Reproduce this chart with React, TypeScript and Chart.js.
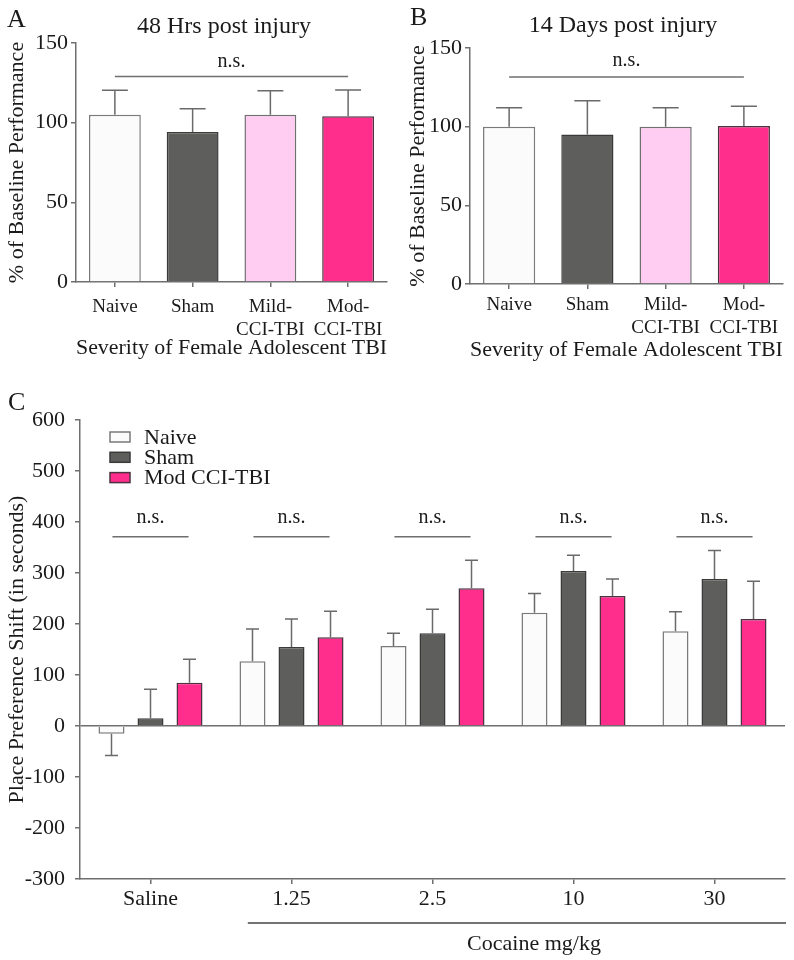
import React, { useEffect, useRef } from "react";
import { Chart, registerables } from "chart.js";

Chart.register(...registerables);

const FONT = '"Liberation Serif", "Times New Roman", Times, serif';
const INK = "#1a1a1a";
const AXIS = "#6f6f6f";

// ---------- data: panels A and B ----------
const severityLabels = [["Naive"], ["Sham"], ["Mild-", "CCI-TBI"], ["Mod-", "CCI-TBI"]];
const hrs48Mean = [105, 94.2, 105, 104];
const hrs48Sem = [15.3, 14.6, 15, 16.5];
const days14Mean = [100, 95, 100, 100.4];
const days14Sem = [12, 21.4, 12, 12.5];
const baselineTicks = [0, 50, 100, 150];
// n.s. bracket: [first bar, last bar, line value, label baseline value]
const hrs48NS = [0, 3, 129, 135];
const days14NS = [0, 3, 131.6, 138.7];

// ---------- data: panel C ----------
const doseLabels = ["Saline", "1.25", "2.5", "10", "30"];
const groupNames = ["Naive", "Sham", "Mod CCI-TBI"];
const naiveShift = [-15, 127, 157, 222, 186];
const naiveShiftSem = [43, 63, 25, 38, 38];
const shamShift = [15, 155, 182, 304, 288];
const shamShiftSem = [57, 55, 47, 31, 56];
const modShift = [85, 174, 270, 255, 210];
const modShiftSem = [46, 51, 55, 33, 74];
const shiftTicks = [-300, -200, -100, 0, 100, 200, 300, 400, 500, 600];
const doseNSLine = [371, 371, 371, 371, 371];
const doseNSLabel = [398, 398, 398, 398, 398];

// ---------- styles ----------
const FILL = { naive: "#fbfbfb", sham: "#5e5e5c", mild: "#ffcdf1", mod: "#ff2d8b" };
const EDGE = { naive: "#7a7a7a", sham: "#3a3a3a", mild: "#707070", mod: "#4d3340" };

const font = (size: number) => ({ family: FONT, size, lineHeight: 1.2 });

const errorBarPlugin = {
  id: "errorBars",
  afterDatasetsDraw(chart: any) {
    const ctx = chart.ctx;
    const y = chart.scales.y;
    chart.data.datasets.forEach((ds: any, di: number) => {
      const errs = ds.errors;
      if (!errs) return;
      const meta = chart.getDatasetMeta(di);
      meta.data.forEach((bar: any, i: number) => {
        const v = ds.data[i];
        const e = errs[i];
        const p = bar.getProps(["x", "y", "width"], true);
        const end = y.getPixelForValue(v >= 0 ? v + e : v - e);
        const cap = p.width / 4;
        ctx.save();
        ctx.strokeStyle = "#6a6a6a";
        ctx.lineWidth = 1.5;
        ctx.beginPath();
        ctx.moveTo(p.x, p.y);
        ctx.lineTo(p.x, end);
        ctx.moveTo(p.x - cap, end);
        ctx.lineTo(p.x + cap, end);
        ctx.stroke();
        ctx.restore();
      });
    });
  },
};

type Mark = { from: number; to: number; line: number; label: number };
function nsPlugin(marks: Mark[]) {
  return {
    id: "nsMarks",
    afterDatasetsDraw(chart: any) {
      const { ctx } = chart;
      const x = chart.scales.x;
      const y = chart.scales.y;
      marks.forEach((m) => {
        const x0 = x.getPixelForValue(m.from);
        const x1 = x.getPixelForValue(m.to);
        const ly = y.getPixelForValue(m.line);
        const ty = y.getPixelForValue(m.label);
        ctx.save();
        ctx.strokeStyle = AXIS;
        ctx.lineWidth = 1.5;
        ctx.beginPath();
        ctx.moveTo(x0, ly);
        ctx.lineTo(x1, ly);
        ctx.stroke();
        ctx.fillStyle = INK;
        ctx.font = `20px ${FONT}`;
        ctx.textAlign = "center";
        ctx.textBaseline = "alphabetic";
        ctx.fillText("n.s.", (x0 + x1) / 2, ty);
        ctx.restore();
      });
    },
  };
}

type Txt = { text: string; x: number; y: number; size: number; align?: CanvasTextAlign };
function textPlugin(items: Txt[]) {
  return {
    id: "panelText",
    afterDraw(chart: any) {
      const ctx = chart.ctx;
      ctx.save();
      ctx.fillStyle = INK;
      ctx.textBaseline = "alphabetic";
      items.forEach((t) => {
        ctx.font = `${t.size}px ${FONT}`;
        ctx.textAlign = t.align || "left";
        ctx.fillText(t.text, t.x, t.y);
      });
      ctx.restore();
    },
  };
}

const boxLegendPlugin = {
  id: "boxLegend",
  afterDraw(chart: any) {
    const { ctx, chartArea } = chart;
    chart.data.datasets.forEach((ds: any, i: number) => {
      const x = chartArea.left + 30;
      const cy = chartArea.top + 17 + i * 20.3;
      ctx.save();
      ctx.fillStyle = ds.backgroundColor;
      ctx.fillRect(x, cy - 5, 20, 10);
      ctx.strokeStyle = ds.borderColor;
      ctx.lineWidth = 1.5;
      ctx.strokeRect(x, cy - 5, 20, 10);
      ctx.fillStyle = INK;
      ctx.font = `22px ${FONT}`;
      ctx.textAlign = "left";
      ctx.textBaseline = "middle";
      ctx.fillText(ds.label, x + 34, cy + 1);
      ctx.restore();
    });
  },
};

const cocainePlugin = {
  id: "cocaineBracket",
  afterDraw(chart: any) {
    const { ctx, chartArea } = chart;
    const x = chart.scales.x;
    const x0 = x.getPixelForValue(0.69);
    const x1 = chartArea.right + 1;
    const ly = chartArea.bottom + 44;
    ctx.save();
    ctx.strokeStyle = "#444";
    ctx.lineWidth = 1.5;
    ctx.beginPath();
    ctx.moveTo(x0, ly);
    ctx.lineTo(x1, ly);
    ctx.stroke();
    ctx.fillStyle = INK;
    ctx.font = `22px ${FONT}`;
    ctx.textAlign = "center";
    ctx.textBaseline = "alphabetic";
    ctx.fillText("Cocaine mg/kg", x.getPixelForValue(2.72), ly + 27);
    ctx.restore();
  },
};

type Geom = {
  top: number; right: number; yWidth: number; xHeight: number;
  yTitlePad: number; yTickPad: number; xTickPad: number; xTitlePad: number;
};

function severityConfig(
  means: number[], sems: number[], ns: number[], geom: Geom, texts: Txt[]
): any {
  return {
    type: "bar",
    data: {
      labels: severityLabels,
      datasets: [
        {
          data: means,
          errors: sems,
          backgroundColor: [FILL.naive, FILL.sham, FILL.mild, FILL.mod],
          borderColor: [EDGE.naive, EDGE.sham, EDGE.mild, EDGE.mod],
          borderWidth: 1.5,
          barPercentage: 0.667,
          categoryPercentage: 1,
        },
      ],
    },
    options: {
      responsive: false,
      animation: false,
      events: [],
      layout: { padding: { top: geom.top, right: geom.right, left: 0, bottom: 0 } },
      plugins: { legend: { display: false }, tooltip: { enabled: false }, title: { display: false } },
      scales: {
        x: {
          type: "category",
          offset: true,
          grid: { offset: false, drawOnChartArea: false, drawTicks: true, tickLength: 5, color: AXIS, lineWidth: 1.5 },
          border: { display: true, color: AXIS, width: 1.5 },
          ticks: { font: font(19), color: INK, padding: geom.xTickPad, maxRotation: 0, autoSkip: false },
          title: {
            display: true,
            text: "Severity of Female Adolescent TBI",
            font: font(22),
            color: INK,
            padding: { top: 0, bottom: geom.xTitlePad },
          },
          afterFit: (s: any) => { s.height = geom.xHeight; },
        },
        y: {
          min: baselineTicks[0],
          max: baselineTicks[baselineTicks.length - 1],
          afterBuildTicks: (s: any) => { s.ticks = baselineTicks.map((v) => ({ value: v })); },
          grid: { drawOnChartArea: false, drawTicks: true, tickLength: 5, color: AXIS, lineWidth: 1.5 },
          border: { display: true, color: AXIS, width: 1.5 },
          ticks: { font: font(22), color: INK, padding: geom.yTickPad },
          title: {
            display: true,
            text: "% of Baseline Performance",
            font: font(22),
            color: INK,
            padding: { top: geom.yTitlePad, bottom: 0 },
          },
          afterFit: (s: any) => { s.width = geom.yWidth; },
        },
      },
    },
    plugins: [
      errorBarPlugin,
      nsPlugin([{ from: ns[0], to: ns[1], line: ns[2], label: ns[3] }]),
      textPlugin(texts),
    ],
  };
}

const configA = () =>
  severityConfig(
    hrs48Mean, hrs48Sem, hrs48NS,
    { top: 43, right: 8, yWidth: 76, xHeight: 93, yTitlePad: 4, yTickPad: 3, xTickPad: 9, xTitlePad: 14 },
    [
      { text: "A", x: 7, y: 27, size: 26 },
      { text: "48 Hrs post injury", x: 224, y: 33, size: 24, align: "center" },
    ]
  );

const configB = () =>
  severityConfig(
    days14Mean, days14Sem, days14NS,
    { top: 48, right: 11, yWidth: 75, xHeight: 91, yTitlePad: 10, yTickPad: 3, xTickPad: 5, xTitlePad: 12 },
    [
      { text: "B", x: 15, y: 25, size: 26 },
      { text: "14 Days post injury", x: 228, y: 32, size: 24, align: "center" },
    ]
  );

const configC = (): any => ({
  type: "bar",
  data: {
    labels: doseLabels,
    datasets: [
      { label: groupNames[0], data: naiveShift, errors: naiveShiftSem, backgroundColor: FILL.naive, borderColor: EDGE.naive },
      { label: groupNames[1], data: shamShift, errors: shamShiftSem, backgroundColor: FILL.sham, borderColor: EDGE.sham },
      { label: groupNames[2], data: modShift, errors: modShiftSem, backgroundColor: FILL.mod, borderColor: EDGE.mod },
    ].map((d) => ({ ...d, borderWidth: 1.5, barPercentage: 0.667, categoryPercentage: 0.83 })),
  },
  options: {
    responsive: false,
    animation: false,
    events: [],
    layout: { padding: { top: 40, right: 9, left: 0, bottom: 0 } },
    plugins: { legend: { display: false }, tooltip: { enabled: false }, title: { display: false } },
    scales: {
      x: {
        type: "category",
        offset: true,
        grid: { offset: false, drawOnChartArea: false, drawTicks: true, tickLength: 5, color: AXIS, lineWidth: 1.5 },
        border: { display: true, color: AXIS, width: 1.5 },
        ticks: { font: font(22), color: INK, padding: 2, maxRotation: 0, autoSkip: false },
        afterFit: (s: any) => { s.height = 81; },
      },
      y: {
        min: shiftTicks[0],
        max: shiftTicks[shiftTicks.length - 1],
        afterBuildTicks: (s: any) => { s.ticks = shiftTicks.map((v) => ({ value: v })); },
        grid: {
          drawOnChartArea: true,
          drawTicks: true,
          tickLength: 5,
          color: (c: any) => (c.tick && c.tick.value === 0 ? AXIS : "rgba(0,0,0,0)"),
          tickColor: AXIS,
          lineWidth: 1.5,
        },
        border: { display: true, color: AXIS, width: 1.5 },
        ticks: { font: font(22), color: INK, padding: 10 },
        title: {
          display: true,
          text: "Place Preference Shift (in seconds)",
          font: font(22),
          color: INK,
          padding: { top: 4, bottom: 0 },
        },
        afterFit: (s: any) => { s.width = 80; },
      },
    },
  },
  plugins: [
    errorBarPlugin,
    nsPlugin(doseLabels.map((_, i) => ({ from: i - 0.27, to: i + 0.27, line: doseNSLine[i], label: doseNSLabel[i] }))),
    boxLegendPlugin,
    cocainePlugin,
    textPlugin([{ text: "C", x: 8, y: 30, size: 26 }]),
  ],
});

function PanelChart(props: { make: () => any; left: number; top: number; width: number; height: number }) {
  const { make, left, top, width, height } = props;
  const ref = useRef<HTMLCanvasElement | null>(null);
  useEffect(() => {
    if (!ref.current) return;
    const chart = new Chart(ref.current, make());
    return () => chart.destroy();
  }, [make]);
  return (
    <canvas
      ref={ref}
      width={width}
      height={height}
      style={{ position: "absolute", left, top, width, height }}
    />
  );
}

export default function App() {
  return (
    <div style={{ position: "absolute", left: 0, top: 0, width: 794, height: 960, background: "#ffffff" }}>
      <PanelChart make={configA} left={0} top={0} width={395} height={375} />
      <PanelChart make={configB} left={395} top={0} width={399} height={375} />
      <PanelChart make={configC} left={0} top={380} width={794} height={580} />
    </div>
  );
}
